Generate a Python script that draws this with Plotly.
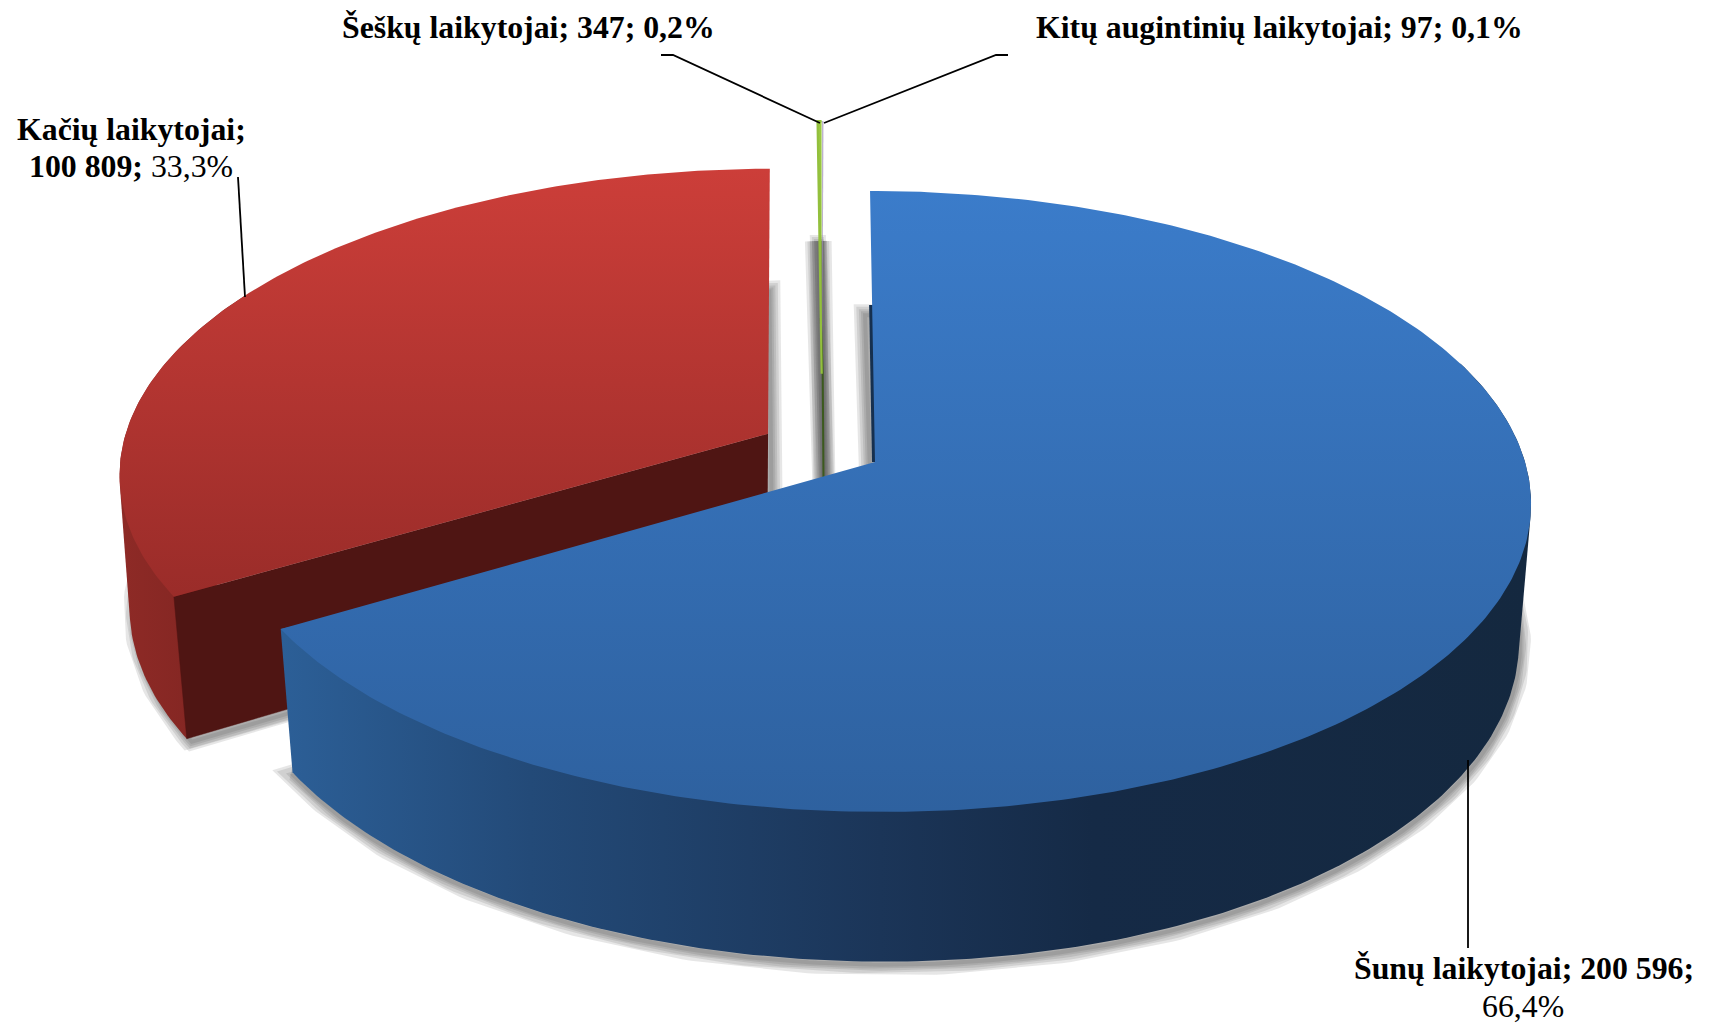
import numpy as np
import plotly.graph_objects as go

# ---- data ----
categories = ["Šunų laikytojai", "Kačių laikytojai", "Šeškų laikytojai", "Kitų augintinių laikytojai"]
values = [200596, 100809, 347, 97]
explode = [0.0933, 0.097, 0.254, 0.254]
top_colors = [
    [[0, "#3b7cca"], [1, "#2e619f"]],
    [[0, "#cc3e39"], [1, "#9a2c29"]],
    [[0, "#9bc940"], [1, "#86b03a"]],
    [[0, "#a99cc0"], [1, "#8f80a8"]],
]
wall_colors = [
    [[0, "#2c5f97"], [0.2, "#234a78"], [0.48, "#1b3558"], [0.65, "#152a46"], [1, "#14283f"]],
    [[0, "#8e2a26"], [1, "#7d2421"]],
]
cut_colors = ["#16304f", "#4f1513", "#3c5a1e", "#3a2c50"]

labels = [
    ("<b>Kačių laikytojai;</b>", 131, 129),
    ("<b>100 809;</b> 33,3%", 131, 166),
    ("<b>Šeškų laikytojai; 347; 0,2%</b>", 528, 27),
    ("<b>Kitų augintinių laikytojai; 97; 0,1%</b>", 1279, 27),
    ("<b>Šunų laikytojai; 200 596;</b>", 1524, 968),
    ("66,4%", 1523, 1006),
]
leaders = [
    ([238, 245], [177, 297]),
    ([661, 673, 820], [55, 55, 123]),
    ([1008, 996, 824], [55, 55, 123]),
    ([1468, 1468], [760, 948]),
]

# ---- projection of the pie plane to the picture ----
TOP = dict(x0=875, y0=462, sx=650, sy=305.5, k=0.127, s=5.6)
BOT = dict(x0=873, y0=598, sx=640, sy=320, k=0.12, s=10.0)


def proj(u, v, P):
    w = 1 - P["k"] * v
    return P["x0"] + (P["sx"] * u + P["s"] * v) / w, P["y0"] + P["sy"] * v / w


def hull(x, y):
    pts = sorted(set(zip(x.tolist(), y.tolist())))

    def half(points):
        out = []
        for p in points:
            while len(out) >= 2 and (out[-1][0] - out[-2][0]) * (p[1] - out[-2][1]) - (out[-1][1] - out[-2][1]) * (p[0] - out[-2][0]) <= 0:
                out.pop()
            out.append(p)
        return out[:-1]

    h = half(pts) + half(pts[::-1])
    return np.array([p[0] for p in h]), np.array([p[1] for p in h])


fracs = np.array(values, float) / sum(values)
edges = np.concatenate([[0], np.cumsum(fracs)]) * 2 * np.pi
mid0 = 0.5 * (edges[0] + edges[1])
cu, cv = -explode[0] * np.sin(mid0), explode[0] * np.cos(mid0)  # pie centre, relative to blue apex

fig = go.Figure()


def wedge(i):
    a0, a1 = edges[i], edges[i + 1]
    m = 0.5 * (a0 + a1)
    ou, ov = cu + explode[i] * np.sin(m), cv - explode[i] * np.cos(m)
    th = np.linspace(a0, a1, max(3, int((a1 - a0) * 80)))
    return ou, ov, th, ou + np.sin(th), ov - np.cos(th)


def add(x, y, **kw):
    fig.add_trace(go.Scatter(x=list(x), y=list(y), mode="lines", hoverinfo="skip", showlegend=False, **kw))


# soft shadow
for i in range(4):
    ou, ov, th, ru, rv = wedge(i)
    u = np.concatenate([[ou], ru, [ou]])
    v = np.concatenate([[ov], rv, [ov]])
    X, Y = proj(u, v, BOT)
    for w_ in (22, 17, 12, 8, 4):
        add(X + 5 if i > 0 else X + 1, Y + 3, line=dict(color="rgba(60,60,60,0.13)", width=w_), )


def draw(i):
    ou, ov, th, ru, rv = wedge(i)
    ax, ay = proj(ou, ov, TOP)
    xt, yt = proj(ru, rv, TOP)
    xb, yb = proj(ru, rv, BOT)
    if i < 2:
        # outer wall: silhouette of the visible part of the rim
        keep = th >= np.radians(70) if i == 0 else th <= np.radians(300)
        hx, hy = hull(np.r_[xt[keep], xb[keep]], np.r_[yt[keep], yb[keep]])
        add(np.r_[hx, hx[0]], np.r_[hy, hy[0]], fill="toself", line=dict(width=0),
            fillgradient=dict(type="horizontal", colorscale=wall_colors[i],
                              start=float(hx.min()), stop=float(hx.max())))
    if i == 1:
        # flat cut face of the exploded slice, towards the viewer
        qu, qv = np.array([ou, ru[0]]), np.array([ov, rv[0]])
        xa, ya = proj(qu, qv, TOP)
        xc, yc = proj(qu, qv, BOT)
        add(np.r_[xa, xc[::-1]], np.r_[ya, yc[::-1]], fill="toself", fillcolor=cut_colors[i],
            line=dict(color=cut_colors[i], width=0.5))
    if i == 0:
        xa, ya = proj(ou + (ru[0] - ou) * np.array([0, .55]), ov + (rv[0] - ov) * np.array([0, .55]), TOP)
        add(xa - 0.5, ya, line=dict(color=cut_colors[0], width=5))
    if i == 2:
        # dark inner edge of the thin slice, running down behind the large one
        tx_, ty_ = proj(ou + (ru[0] - ou) * 0.2, ov + (rv[0] - ov) * 0.2, TOP)
        bx_, by_ = proj(ou, ov, BOT)
        add([tx_, ax + 1, ax + 2], [ty_, ay, by_], line=dict(color=cut_colors[2], width=2))
    tx = np.concatenate([[ax], xt])
    ty = np.concatenate([[ay], yt])
    edge = dict(color="#93c03d", width=2.2) if i == 2 else dict(width=0)
    add(tx, ty, fill="toself", line=edge,
        fillgradient=dict(type="vertical", colorscale=top_colors[i],
                          start=float(ty.min()), stop=float(ty.max())))


for i in (3, 2, 1, 0):
    draw(i)

for lx, ly in leaders:
    add(lx, ly, line=dict(color="#000000", width=1.8))

for t, x, y in labels:
    fig.add_annotation(x=x, y=y, text=t, showarrow=False, xanchor="center", yanchor="middle",
                       font=dict(family="Liberation Serif", size=31.8, color="#000000"))

fig.update_layout(
    width=1713, height=1032, margin=dict(l=0, r=0, t=0, b=0),
    paper_bgcolor="white", plot_bgcolor="white", showlegend=False,
    xaxis=dict(range=[0, 1713], visible=False, fixedrange=True),
    yaxis=dict(range=[1032, 0], visible=False, fixedrange=True),
)
fig.write_html("out.html", post_script="document.body.style.margin='0';",
               config={"displayModeBar": False})
